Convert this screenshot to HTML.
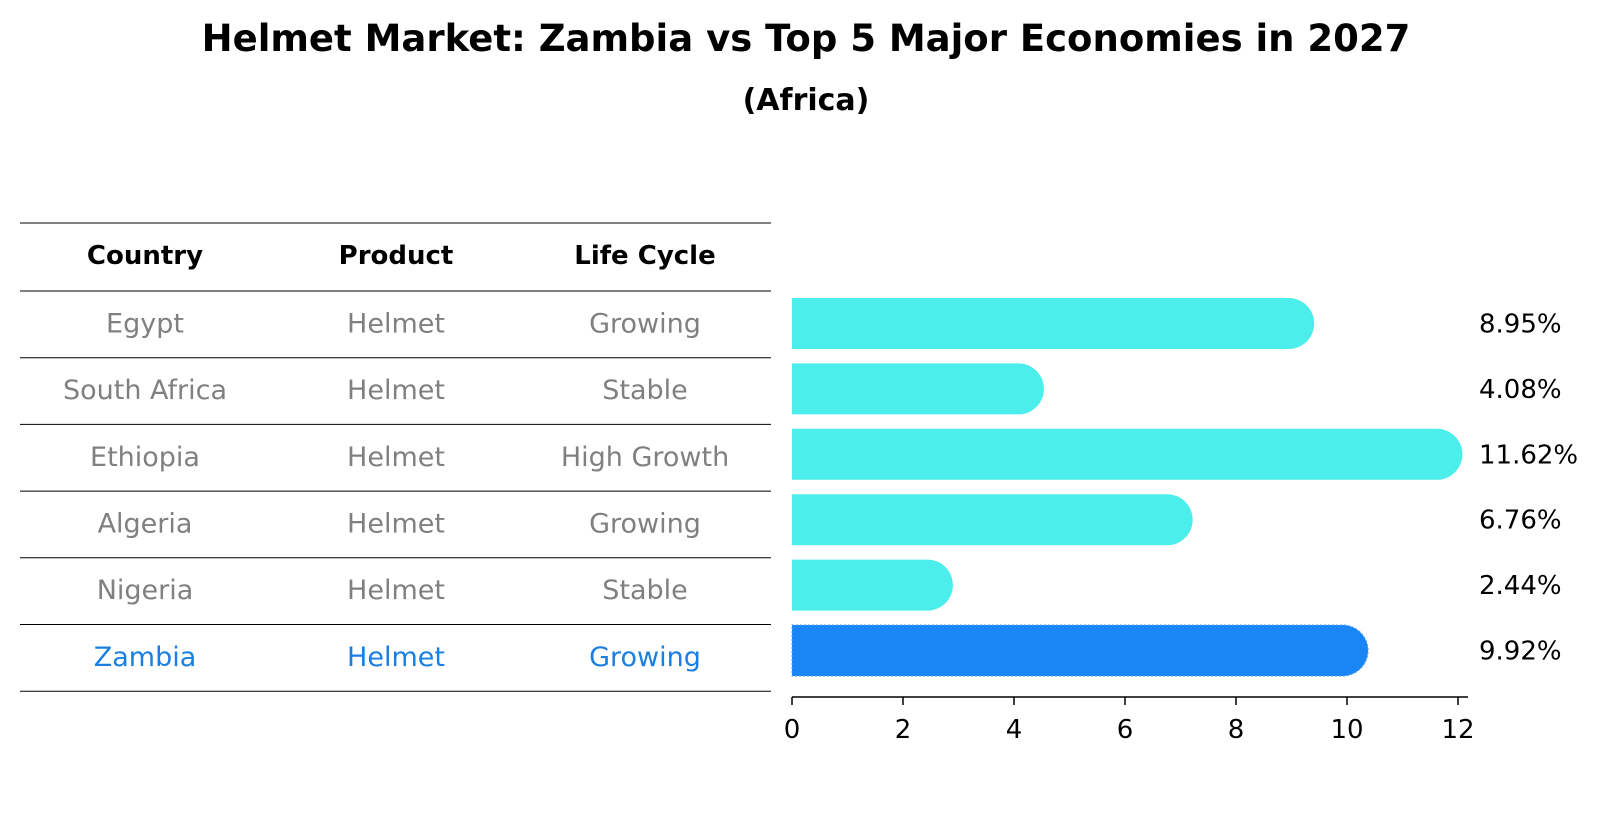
<!DOCTYPE html>
<html><head><meta charset="utf-8"><style>
body{margin:0;background:#fff;font-family:"Liberation Sans","DejaVu Sans",sans-serif}
</style></head><body>
<svg width="1604" height="823" viewBox="0 0 1604 823" xmlns="http://www.w3.org/2000/svg" font-family="DejaVu Sans, Liberation Sans, sans-serif">
<text x="806" y="51" text-anchor="middle" font-size="37" font-weight="bold">Helmet Market: Zambia vs Top 5 Major Economies in 2027</text>
<text x="806" y="110" text-anchor="middle" font-size="30" font-weight="bold">(Africa)</text>
<g id="table"></g>
<g id="chart"></g>
</svg>
<script>
const countries=["Egypt","South Africa","Ethiopia","Algeria","Nigeria","Zambia"];
const products=["Helmet","Helmet","Helmet","Helmet","Helmet","Helmet"];
const lifeCycles=["Growing","Stable","High Growth","Growing","Stable","Growing"];
const values=[8.95,4.08,11.62,6.76,2.44,9.92];
const ticks=[0,2,4,6,8,10,12];
const NS="http://www.w3.org/2000/svg";
function mk(t,a,p){const e=document.createElementNS(NS,t);for(const k in a)e.setAttribute(k,a[k]);p.appendChild(e);return e;}
const x=v=>792+v*55.5;
const rowY=i=>323.5+i*65.4;
const tbl=document.getElementById('table'), ch=document.getElementById('chart');
const lineYs=[223,291];for(let i=0;i<6;i++)lineYs.push(291+(i+1)*66.7);
lineYs.forEach((y,i)=>{const l=mk('line',{x1:20,x2:771,y1:y,y2:y,stroke:'#000','stroke-width':1},tbl);

});
const cx=[145,396,645];
["Country","Product","Life Cycle"].forEach((h,j)=>{const t=mk('text',{x:cx[j],y:264,'text-anchor':'middle','font-size':26,'font-weight':'bold'},tbl);t.textContent=h;

});
countries.forEach((c,i)=>{const y=(lineYs[i+1]+lineYs[i+2])/2+8;const col=c==="Zambia"?"#1a7fe0":"#808080";
[c,products[i],lifeCycles[i]].forEach((s,j)=>{const t=mk('text',{x:cx[j],y:y,'text-anchor':'middle','font-size':27,fill:col},tbl);t.textContent=s;

});});
values.forEach((v,i)=>{const y=rowY(i),h=51,r=h/2;const w=x(v)-x(0);
const col=countries[i]==="Zambia"?"#1a85f5":"#4beeea";
const p=mk('path',{d:`M${x(0)},${y-r}H${x(0)+w}A${r},${r} 0 0 1 ${x(0)+w},${y+r}H${x(0)}Z`,fill:col},ch);
if(countries[i]==="Zambia"){p.setAttribute('stroke','#4aa0f8');p.setAttribute('stroke-dasharray','2 2');}


const t=mk('text',{x:1479,y:y+9,'font-size':26},ch);t.textContent=v.toFixed(2)+'%';

});
const ax=mk('line',{x1:792,x2:1468,y1:697,y2:697,stroke:'#000','stroke-width':1.5},ch);


ticks.forEach(v=>{const l=mk('line',{x1:x(v),x2:x(v),y1:697,y2:705,stroke:'#000','stroke-width':1.5},ch);


const t=mk('text',{x:x(v),y:738,'text-anchor':'middle','font-size':26},ch);t.textContent=v;

});
</script>
</body></html>
